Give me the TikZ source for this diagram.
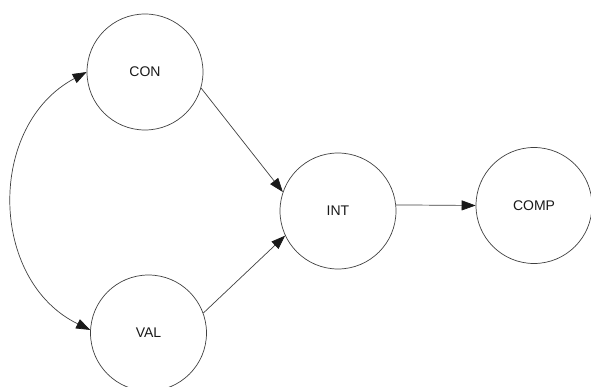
\documentclass[tikz,border=0pt]{standalone}
\usepackage{fontspec}
\setmainfont{Liberation Sans}
\usetikzlibrary{arrows.meta}
\begin{document}
\begin{tikzpicture}[x=1pt,y=1pt,
  state/.style={circle,draw=black!75,line width=0.7pt,minimum size=116pt,inner sep=0pt,font=\fontsize{14}{16}\selectfont,text=black!90},
  tip/.tip={Triangle[length=14pt,width=10pt,color=black!90]},
  conn/.style={draw=black!75,line width=0.7pt,-tip},
  biconn/.style={draw=black!75,line width=0.7pt,tip-tip}]
\useasboundingbox (0,0) rectangle (591,-387);
\clip (0,0) rectangle (591,-387);
\node[state] (CON) at (145,-72) {CON};
\node[state] (VAL) at (148.5,-333) {VAL};
\node[state] (INT) at (338,-211) {INT};
\node[state] (COMP) at (534,-205.5) {COMP};
\draw[conn] (CON.-16) -- (INT.161);
\draw[conn] (VAL.20) -- (INT.205);
\draw[conn] (INT.6) -- (COMP.180);
\draw[biconn] (CON.180) to[out=208,in=154,looseness=1.12] (VAL.177);
\end{tikzpicture}
\end{document}
